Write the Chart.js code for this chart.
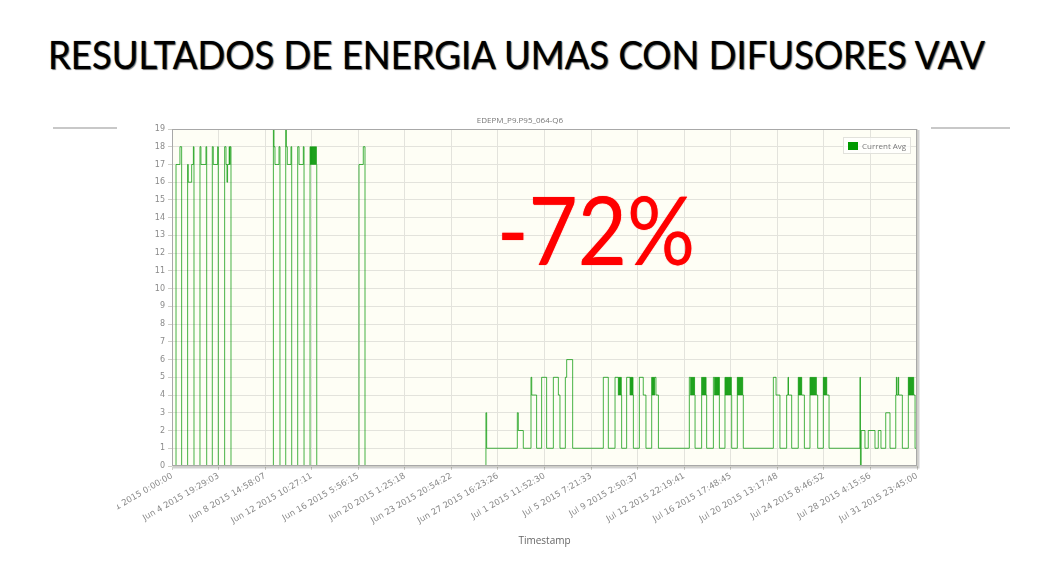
<!DOCTYPE html>
<html>
<head>
<meta charset="utf-8">
<script src="https://cdn.jsdelivr.net/npm/chart.js@4.4.1/dist/chart.umd.min.js"></script>
<style>
  html, body { margin: 0; padding: 0; background: #ffffff; width: 1053px; height: 566px; overflow: hidden; }
  body { position: relative; font-family: Lato, "Open Sans", sans-serif; }
  #slideTitle { position: absolute; left: 48px; top: 35px; font-size: 39px; line-height: 1; color: #000;
    white-space: nowrap; transform-origin: 0 0; text-shadow: 1px 1px 1px rgba(0,0,0,0.55), 0 0 1px rgba(0,0,0,0.6); }
  .rule { position: absolute; height: 2px; background: #c8c8c8; }
  #chartBox { position: absolute; left: 117px; top: 105px; width: 813px; height: 455px; }
  #chartTitle { position: absolute; left: 440px; width: 160px; top: 114px; text-align: center;
    font: 8px "Open Sans", sans-serif; color: #777; }
  #legendBox { position: absolute; left: 843px; top: 137px; height: 15px; padding: 0 4px 0 4px;
    border: 1px solid #e2e2dc; background: rgba(255,255,255,0.7); display: flex; align-items: center;
    font: 8px "Open Sans", sans-serif; color: #777; white-space: nowrap; }
  #legendBox span.sw { display: inline-block; width: 10px; height: 8px; background: #009a00; margin-right: 4px; }
  #pct { position: absolute; left: 497px; top: 181px; font-size: 95px; line-height: 1; color: #ff0000;
    white-space: nowrap; transform-origin: 0 0; text-shadow: 0 0 1px rgba(255,0,0,0.8); }
</style>
</head>
<body>
<div id="slideTitle">RESULTADOS DE ENERGIA UMAS CON DIFUSORES VAV</div>
<div class="rule" style="left:53px; width:64px; top:127px;"></div>
<div class="rule" style="left:931px; width:79px; top:127px;"></div>
<div id="chartBox"><canvas id="c" width="813" height="455" style="width:813px;height:455px;"></canvas></div>
<div id="chartTitle"></div>
<div id="legendBox"><span class="sw"></span><span id="legendText"></span></div>
<div id="pct">-72%</div>

<script>
// ---------------- data ----------------
const chartTitle = 'EDEPM_P9.P95_064-Q6';
const seriesName = 'Current Avg';
const axisTitle = 'Timestamp';
const xMaxDays = 60.9896;           // Jun 1 2015 0:00:00 -> Jul 31 2015 23:45:00, in days
const yMin = 0;
const yMax = 19;
const tickLabels = [
  'Jun 1 2015 0:00:00', 'Jun 4 2015 19:29:03', 'Jun 8 2015 14:58:07', 'Jun 12 2015 10:27:11',
  'Jun 16 2015 5:56:15', 'Jun 20 2015 1:25:18', 'Jun 23 2015 20:54:22', 'Jun 27 2015 16:23:26',
  'Jul 1 2015 11:52:30', 'Jul 5 2015 7:21:33', 'Jul 9 2015 2:50:37', 'Jul 12 2015 22:19:41',
  'Jul 16 2015 17:48:45', 'Jul 20 2015 13:17:48', 'Jul 24 2015 8:46:52', 'Jul 28 2015 4:15:56',
  'Jul 31 2015 23:45:00'
];
// step change points: [day since Jun 1 0:00, Current Avg]
const juneSteps = [
  [0, 0],
  [0.33, 17], [0.65, 18], [0.79, 0],
  [1.28, 17], [1.33, 16], [1.61, 17], [1.75, 18], [1.80, 0],
  [2.29, 18], [2.37, 17], [2.78, 18], [2.84, 0],
  [3.30, 18], [3.38, 17], [3.74, 18], [3.79, 0],
  [4.31, 18], [4.42, 17], [4.50, 16], [4.55, 17], [4.68, 18], [4.72, 17], [4.76, 18], [4.83, 0],
  [8.30, 19], [8.35, 18], [8.43, 17], [8.76, 18], [8.84, 0],
  [9.31, 19], [9.36, 18], [9.44, 17], [9.74, 18], [9.80, 0],
  [10.29, 18], [10.40, 17], [10.75, 18], [10.81, 0],
  [11.30, 18], [11.34, 17], [11.38, 18], [11.42, 17], [11.46, 18], [11.50, 17], [11.54, 18], [11.58, 17],
  [11.62, 18], [11.66, 17], [11.70, 18], [11.74, 17], [11.78, 18], [11.82, 17], [11.85, 0],
  [15.31, 17], [15.66, 18], [15.80, 0],
  [25.70, 3], [25.76, 1],
  [28.27, 3], [28.35, 2], [28.76, 1]
];
const julySteps = [
  [29.39, 5], [29.45, 4], [29.85, 1],
  [30.26, 5], [30.67, 1],
  [31.22, 5], [31.63, 4], [31.76, 1],
  [32.20, 5], [32.31, 6], [32.80, 1],
  [35.31, 5], [35.72, 1],
  [36.27, 5], [36.54, 4], [36.58, 5], [36.62, 4], [36.66, 5], [36.70, 4], [36.74, 5], [36.78, 4], [36.81, 1],
  [37.22, 5], [37.50, 4], [37.54, 5], [37.58, 4], [37.62, 5], [37.66, 4], [37.70, 5], [37.74, 4], [37.77, 1],
  [38.26, 5], [38.58, 4], [38.80, 1],
  [39.27, 5], [39.31, 4], [39.35, 5], [39.39, 4], [39.43, 5], [39.47, 4], [39.51, 5], [39.62, 4], [39.82, 1],
  [42.35, 5], [42.46, 4], [42.50, 5], [42.54, 4], [42.58, 5], [42.62, 4], [42.66, 5], [42.70, 4], [42.74, 5], [42.78, 4], [42.82, 1],
  [43.36, 5], [43.40, 4], [43.44, 5], [43.48, 4], [43.52, 5], [43.56, 4], [43.60, 5], [43.64, 4], [43.68, 5], [43.72, 4], [43.77, 1],
  [44.32, 5], [44.42, 4], [44.46, 5], [44.50, 4], [44.54, 5], [44.58, 4], [44.62, 5], [44.66, 4], [44.70, 5], [44.74, 4], [44.78, 5], [44.81, 1],
  [45.27, 5], [45.31, 4], [45.35, 5], [45.39, 4], [45.43, 5], [45.47, 4], [45.51, 5], [45.55, 4], [45.59, 5], [45.63, 4],
  [45.67, 5], [45.71, 4], [45.75, 5], [45.79, 4], [45.82, 1],
  [46.28, 5], [46.32, 4], [46.36, 5], [46.40, 4], [46.44, 5], [46.48, 4], [46.52, 5], [46.56, 4], [46.60, 5], [46.64, 4],
  [46.68, 5], [46.72, 4], [46.77, 1],
  [49.23, 5], [49.45, 4], [49.77, 1],
  [50.32, 4], [50.43, 5], [50.47, 4], [50.73, 1],
  [51.27, 5], [51.31, 4], [51.35, 5], [51.39, 4], [51.43, 5], [51.47, 4], [51.51, 5], [51.55, 4], [51.77, 1],
  [52.23, 5], [52.27, 4], [52.31, 5], [52.35, 4], [52.39, 5], [52.43, 4], [52.47, 5], [52.51, 4], [52.55, 5], [52.59, 4],
  [52.63, 5], [52.67, 4], [52.71, 5], [52.75, 4], [52.86, 1],
  [53.32, 5], [53.36, 4], [53.40, 5], [53.44, 4], [53.48, 5], [53.52, 4], [53.56, 5], [53.60, 4], [53.79, 1],
  [56.32, 5], [56.36, 0], [56.42, 2], [56.73, 1], [57.00, 2], [57.55, 1], [57.82, 2], [58.04, 1], [58.43, 3], [58.78, 1],
  [59.25, 4], [59.30, 5], [59.34, 4], [59.45, 5], [59.49, 4], [59.79, 1],
  [60.28, 5], [60.32, 4], [60.36, 5], [60.40, 4], [60.44, 5], [60.48, 4], [60.52, 5], [60.56, 4], [60.60, 5], [60.64, 4],
  [60.68, 5], [60.72, 4], [60.83, 1],
  [60.9896, 1]
];

// ---------------- page text ----------------
document.getElementById('chartTitle').textContent = chartTitle;
document.getElementById('legendText').textContent = seriesName;
function fitWidth(id, w) {
  const el = document.getElementById(id);
  const r = el.getBoundingClientRect().width;
  el.style.transform = 'scaleX(' + (w / r) + ')';
}
fitWidth('slideTitle', 937);
fitWidth('pct', 198);

// ---------------- chart ----------------
const plotDeco = {
  id: 'plotDeco',
  beforeDraw(chart) {
    const { ctx, chartArea: a } = chart;
    ctx.save();
    ctx.fillStyle = '#fefef5';
    ctx.fillRect(a.left, a.top, a.right - a.left, a.bottom - a.top);
    ctx.restore();
  },
  afterDraw(chart) {
    const { ctx, chartArea: a } = chart;
    ctx.save();
    ctx.strokeStyle = 'rgba(0,0,0,0.18)';
    ctx.lineWidth = 2;
    ctx.beginPath();
    ctx.moveTo(a.right + 1.5, a.top + 1);
    ctx.lineTo(a.right + 1.5, a.bottom + 1.5);
    ctx.lineTo(a.left + 1, a.bottom + 1.5);
    ctx.stroke();
    ctx.strokeStyle = '#a8a8a8';
    ctx.lineWidth = 1;
    ctx.strokeRect(a.left + 0.5, a.top + 0.5, a.right - a.left - 1, a.bottom - a.top - 1);
    ctx.restore();
  }
};

const points = juneSteps.concat(julySteps).map(p => ({ x: p[0], y: p[1] }));

new Chart(document.getElementById('c'), {
  type: 'line',
  data: {
    datasets: [{
      label: seriesName,
      data: points,
      stepped: true,
      borderColor: 'rgba(0,150,0,0.72)',
      backgroundColor: '#009a00',
      borderWidth: 1,
      pointRadius: 0,
      fill: false,
      tension: 0
    }]
  },
  options: {
    responsive: false,
    animation: false,
    devicePixelRatio: window.devicePixelRatio || 1,
    layout: { padding: { left: 0, top: 24, right: 13, bottom: 0 } },
    plugins: {
      legend: { display: false },
      title: { display: false },
      tooltip: { enabled: false }
    },
    scales: {
      x: {
        type: 'linear',
        min: 0,
        max: xMaxDays,
        afterBuildTicks(scale) {
          scale.ticks = tickLabels.map((_, i) => ({ value: i * xMaxDays / (tickLabels.length - 1) }));
        },
        afterFit(scale) {
          scale.height = 94;
          scale.paddingLeft = 0;
          scale.paddingRight = 0;
        },
        grid: { color: '#e3e3dc', lineWidth: 1, drawTicks: true, tickLength: 4, tickColor: '#cfcfc8' },
        border: { display: false },
        ticks: {
          autoSkip: false,
          maxRotation: 30,
          minRotation: 30,
          padding: 1,
          color: '#8a8a8a',
          font: { family: '"DejaVu Sans", sans-serif', size: 8.5 },
          callback: (v, i) => tickLabels[i]
        },
        title: {
          display: true,
          text: axisTitle,
          color: '#666',
          font: { family: '"Open Sans", sans-serif', size: 10 },
          padding: { top: 0, bottom: 13 }
        }
      },
      y: {
        min: yMin,
        max: yMax,
        afterFit(scale) { scale.width = 55; },
        grid: { color: '#e3e3dc', lineWidth: 1, drawTicks: true, tickLength: 4, tickColor: '#cfcfc8' },
        border: { display: false },
        ticks: {
          stepSize: 1,
          padding: 3,
          color: '#8a8a8a',
          font: { family: '"DejaVu Sans", sans-serif', size: 8 }
        }
      }
    }
  },
  plugins: [plotDeco]
});
</script>
</body>
</html>
